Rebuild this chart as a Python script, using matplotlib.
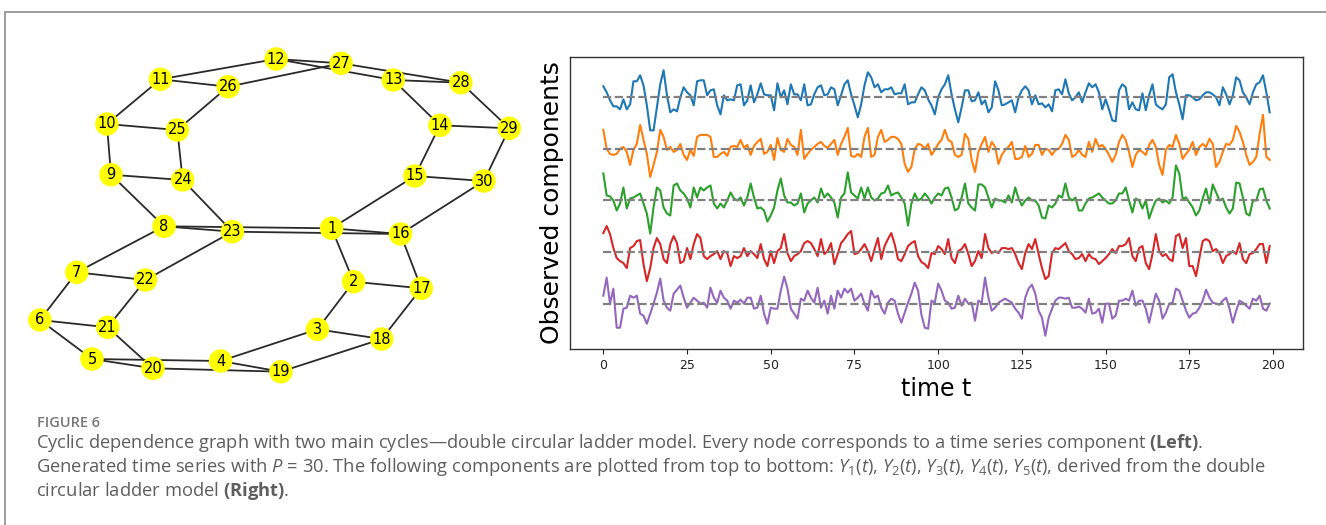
import numpy as np
import matplotlib
matplotlib.use("Agg")
import matplotlib.pyplot as plt
from matplotlib.collections import LineCollection

# ---------------- data ----------------
time = np.arange(200)

y1 = [11, 5, -3, -9, -9, -12, -2, -12, -7, 16,
      16, 22, 12, -8, -33, -33, -10, 13, 27, 2,
      -15, -12, -14, 0, 10, 5, 2, -8, 16, 17,
      17, 2, 7, 8, -8, -17, 2, -3, -2, -3,
      12, 13, -8, -3, 12, -5, 3, 14, 3, 2,
      2, -13, 14, 0, 7, -7, 13, 3, 3, -3,
      13, -8, -7, 3, 10, 12, 2, 3, 10, 8,
      -8, 2, 13, 17, 3, -8, -20, -7, 12, 25,
      20, 10, 13, 5, 8, 8, 10, 3, 4, 4,
      13, -7, -5, -5, 3, 10, 7, -2, -8, -17,
      0, 8, 13, 22, 3, -12, -25, -10, 7, 7,
      -4, -3, 5, -7, -3, -15, -10, 16, 7, -8,
      -7, -5, -3, -15, 0, 7, 11, 7, -7, 2,
      -7, -6, -10, -7, -14, 7, 8, 3, 18, 4,
      -3, 0, 5, -5, 5, 14, 10, 13, 5, -12,
      -2, -12, -23, -24, 7, 13, 10, -12, -5, -12,
      -13, 4, -13, 2, 13, -7, -10, -12, -7, 20,
      23, 5, -7, -22, 2, 2, 0, -3, -2, 2,
      5, 5, 3, 0, -8, 10, 3, -7, 2, 20,
      17, 5, 0, -7, 5, 13, 15, 22, 5, -15]

y2 = [19, 0, -5, -6, -5, 0, 2, -3, -16, -1,
      5, 24, 9, -5, -28, -16, -3, 19, 12, -1,
      2, -3, -1, 5, -6, -11, -1, -7, 12, 14,
      14, 14, 12, -8, -8, -5, -3, -7, 2, 3,
      2, 9, 1, 4, -6, 3, 7, 10, -5, -3,
      4, -11, 11, -1, -3, 10, 4, 2, -6, 19,
      -10, -5, -1, 2, 5, 7, 3, 1, 5, 9,
      -6, 5, 12, 21, -7, -8, -5, -8, 12, 21,
      -8, -6, 12, 19, 7, 9, 12, 12, 10, 5,
      -15, -23, -18, 0, 5, 4, 0, 5, -6, -1,
      5, 9, 19, 9, 7, -6, -8, -6, 15, 10,
      -11, -23, -3, 5, 12, -3, 7, 2, -15, -6,
      -1, 2, 7, -10, -10, -8, 3, -8, -5, 4,
      4, -6, 0, -1, -6, -1, 0, 5, 14, 9,
      -8, -6, -1, -6, -8, 7, -3, 10, 2, 4,
      0, -6, -13, -6, 7, 14, 9, -3, -18, -6,
      -1, -3, -6, 4, 9, 2, -16, -26, -1, 4,
      2, 14, 5, -10, -5, -1, 7, -6, 2, 5,
      2, 10, 5, -18, -13, -3, 5, 4, 9, 23,
      17, 7, -6, -16, -13, -8, 15, 34, -8, -11]

y3 = [27, 5, 4, 0, -10, -3, 13, -8, 2, 3,
      5, 7, -3, -13, -33, -7, 13, 10, -7, -13,
      -15, 15, 17, 10, 7, 2, -7, 13, 3, 13,
      10, 13, 15, -3, -8, -3, -7, 0, 8, 2,
      0, 3, -5, 3, 17, 3, -8, -7, -10, -21,
      -15, -7, 10, 22, 5, -2, -2, -5, -3, 7,
      -12, -3, 0, 3, -2, 12, 3, 7, 3, -2,
      -17, 3, 7, 28, 8, 5, 2, 13, 2, 13,
      3, 0, 2, 7, 8, 15, 5, 7, 8, 3,
      -3, -25, -3, 7, 0, 2, 7, 3, -3, 3,
      7, 5, 12, 13, 3, -10, -8, 3, 17, -3,
      -7, -10, 16, 16, 13, 3, -7, 2, 0, 0,
      -2, 5, -2, 13, 2, -5, 0, 3, 0, 0,
      -5, -17, -18, -5, -7, -3, 5, 3, 17, 3,
      0, 3, -10, -10, -3, 2, 3, 5, 7, 3,
      0, -3, -3, 0, 7, 7, 13, 0, -12, 2,
      0, -8, 0, -18, -8, 0, 2, -2, 0, -3,
      3, 35, 27, 2, 3, -2, -7, -15, -10, 2,
      12, -3, 16, 8, 0, 2, -7, -13, -8, 18,
      17, 3, -13, -15, 0, 0, 11, 12, 0, -8]

y4 = [19, 26, 18, 4, -6, -9, -11, -16, 4, 6,
      11, 12, -12, -29, -16, 4, 14, 8, -7, -11,
      8, 16, 9, -11, -9, 4, -7, 8, 18, 14,
      -4, -7, -4, -2, 1, -7, 1, -1, -14, -4,
      -6, -4, 4, -4, 1, -2, -6, 8, -7, -14,
      1, -11, 1, 4, 18, -1, -9, -4, -2, 1,
      9, 11, 9, 3, -4, 13, -2, 1, 9, -12,
      -2, 9, 13, 18, 21, -2, -1, 3, 8, 1,
      -9, 3, 14, -7, 6, 13, 19, 8, -7, -9,
      -2, 6, 9, 11, -4, -10, -12, -16, -1, -2,
      6, 3, -2, 13, -6, -11, 1, 3, 8, -2,
      -14, -9, 1, -6, 18, 4, -1, 1, -1, 4,
      4, 3, 4, -2, -11, -17, -1, 8, 3, 13,
      -2, -16, -27, -24, -1, 4, 3, 6, 9, 1,
      -2, -7, -6, -2, -9, -2, -6, -7, -12, -9,
      -6, -2, 3, -1, 6, 6, 8, 14, -4, -9,
      4, 6, -11, -17, -2, 18, 1, -4, -2, -7,
      -9, 16, 18, 4, 14, -14, -14, -24, -6, 11,
      13, 11, 1, 3, -1, -11, -4, -2, 1, -2,
      9, -7, -11, -2, -1, 3, 8, 8, -11, 6]

y5 = [8, 26, 0, 15, -24, -24, -5, -4, 8, 6,
      8, -10, -12, -20, -10, 0, 11, 25, 3, -4,
      -7, 10, 14, 18, 6, -4, 1, 6, 3, 0,
      1, -4, 16, 6, 1, 13, 6, 3, -5, 3,
      1, 4, 0, 6, 6, -5, -4, 8, -10, -20,
      -4, -5, -5, 13, 27, 15, -5, -10, -15, 5,
      3, 13, 6, 1, 16, -4, 3, -10, 8, -5,
      13, 6, 15, 11, 15, 3, 6, 10, 0, -7,
      13, 6, 8, -4, -10, 1, 5, 3, -10, -19,
      -9, 1, 10, 21, 13, -11, -24, -25, 3, 1,
      20, 13, 3, 1, -5, -4, 8, -2, 5, 0,
      1, -17, 3, 1, 26, 6, -7, -4, 1, 3,
      5, 3, 1, -5, -9, -15, 6, 15, 19, 10,
      -7, -14, -32, -14, -5, 3, 6, 6, 5, 6,
      -4, -4, -3, -5, -9, 5, -10, -9, -5, -19,
      0, 0, -15, -12, 3, 3, 5, 3, 13, -2,
      3, 3, -5, -19, -4, 10, 3, -15, -9, 0,
      1, 15, 13, 3, -7, -14, -10, -9, -4, 3,
      14, 6, 1, 0, -1, 3, 6, -5, -19, -7,
      3, 1, -2, -5, 5, 3, 8, -5, -7, 0]

series = [y1, y2, y3, y4, y5]
xticks = [0, 25, 50, 75, 100, 125, 150, 175, 200]
xlabel = "time t"
ylabel = "Observed components"

nodes = list(range(1, 31))
edges = [(1, 2), (2, 3), (3, 4), (4, 5), (5, 6), (6, 7), (7, 8), (8, 9),
         (9, 10), (10, 11), (11, 12), (12, 13), (13, 14), (14, 15), (15, 1),
         (16, 17), (17, 18), (18, 19), (19, 20), (20, 21), (21, 22), (22, 23),
         (23, 24), (24, 25), (25, 26), (26, 27), (27, 28), (28, 29), (29, 30),
         (30, 16),
         (1, 16), (2, 17), (3, 18), (4, 19), (5, 20), (6, 21), (7, 22), (8, 23),
         (9, 24), (10, 25), (11, 26), (12, 27), (13, 28), (14, 29), (15, 30),
         (8, 1), (23, 16)]

# layout of the graph drawing (pixel positions in the figure)
node_pos = {1: (331.6, 228.3), 2: (353.6, 281.7), 3: (317.4, 329.3),
            4: (220.6, 361.0), 5: (92.0, 359.0), 6: (39.9, 320.0),
            7: (76.8, 272.3), 8: (164.1, 226.3), 9: (111.0, 174.7),
            10: (106.9, 124.0), 11: (160.4, 79.3), 12: (276.1, 59.0),
            13: (393.2, 80.0), 14: (439.9, 125.3), 15: (414.9, 176.0),
            16: (400.5, 234.0), 17: (421.3, 288.3), 18: (381.7, 339.0),
            19: (280.9, 371.7), 20: (153.0, 368.3), 21: (107.6, 327.3),
            22: (145.5, 280.0), 23: (232.4, 231.7), 24: (182.7, 180.0),
            25: (177.3, 130.0), 26: (228.1, 86.7), 27: (341.1, 63.3),
            28: (460.9, 82.7), 29: (509.3, 128.3), 30: (483.9, 181.0)}

caption_head = "FIGURE 6"
caption_lines = [
    "Cyclic dependence graph with two main cycles\u2014double circular ladder model. "
    "Every node corresponds to a time series component $\\mathbf{(Left)}$.",
    "Generated time series with $P$ = 30. The following components are plotted from top to bottom: "
    "$Y_1(t)$, $Y_2(t)$, $Y_3(t)$, $Y_4(t)$, $Y_5(t)$, derived from the double",
    "circular ladder model $\\mathbf{(Right)}$.",
]

# ---------------- figure ----------------
plt.rcParams["mathtext.fontset"] = "custom"
plt.rcParams["mathtext.rm"] = "Open Sans"
plt.rcParams["mathtext.it"] = "Open Sans:italic"
plt.rcParams["mathtext.bf"] = "Open Sans:bold"

W, H = 1326, 525
fig = plt.figure(figsize=(W / 100, H / 100), dpi=100)
fig.patch.set_facecolor("white")

bg = fig.add_axes([0, 0, 1, 1])
bg.set_xlim(0, W)
bg.set_ylim(H, 0)
bg.axis("off")

# panel frame
bg.plot([4.5, 4.5], [12, H + 5], color="#9c9c9c", lw=1.4, clip_on=False)
bg.plot([4.5, W + 5], [12, 12], color="#9c9c9c", lw=1.4, clip_on=False)

# graph
segs = [[node_pos[a], node_pos[b]] for a, b in edges]
bg.add_collection(LineCollection(segs, colors="#2a2a2a", linewidths=1.3, zorder=1))
bg.scatter([node_pos[n][0] for n in nodes], [node_pos[n][1] for n in nodes],
           s=285, c="#ffff00", edgecolors="none", zorder=2)
for n in nodes:
    bg.text(node_pos[n][0], node_pos[n][1], str(n), ha="center", va="center",
            fontsize=10.5, color="black", zorder=3)

# time series panel
ax = fig.add_axes([570 / W, 1 - 349 / H, (1303 - 570) / W, (349 - 57) / H])
colors = ["#1f77b4", "#ff7f0e", "#2ca02c", "#d62728", "#9467bd"]
step = 51.5
for i, s in enumerate(series):
    off = -i * step
    ax.plot(time, np.asarray(s) + off, color=colors[i], lw=1.5)
for i in range(len(series)):
    ax.hlines(-i * step, time[0], time[-1], colors="grey", linestyles="--", lw=1.6)
ax.set_xticks(xticks)
ax.set_yticks([])
ax.tick_params(axis="x", labelsize=9, colors="#222222")
for sp in ax.spines.values():
    sp.set_color("#333333")
    sp.set_linewidth(1.0)
ax.set_xlabel(xlabel, fontsize=17)
ax.set_ylabel(ylabel, fontsize=18)

# caption
renderer = fig.canvas.get_renderer()


def fit_text(x, y, s, target_w, size0, **kw):
    t = bg.text(x, y, s, fontsize=size0, **kw)
    w = t.get_window_extent(renderer).width
    t.set_fontsize(size0 * target_w / w)
    return t


fit_text(37, 427, caption_head, 63, 10, family="Open Sans", weight="semibold",
         color="#777777", va="baseline", ha="left")
fit_text(36, 448, caption_lines[0], 1172, 12.5, family="Open Sans",
         color="#5e5e5e", va="baseline", ha="left")
t2 = fit_text(36, 472, caption_lines[1], 1234, 12.5, family="Open Sans",
              color="#5e5e5e", va="baseline", ha="left")
bg.text(36, 496, caption_lines[2], fontsize=t2.get_fontsize(), family="Open Sans",
        color="#5e5e5e", va="baseline", ha="left")

fig.savefig("out.png", dpi=100)
